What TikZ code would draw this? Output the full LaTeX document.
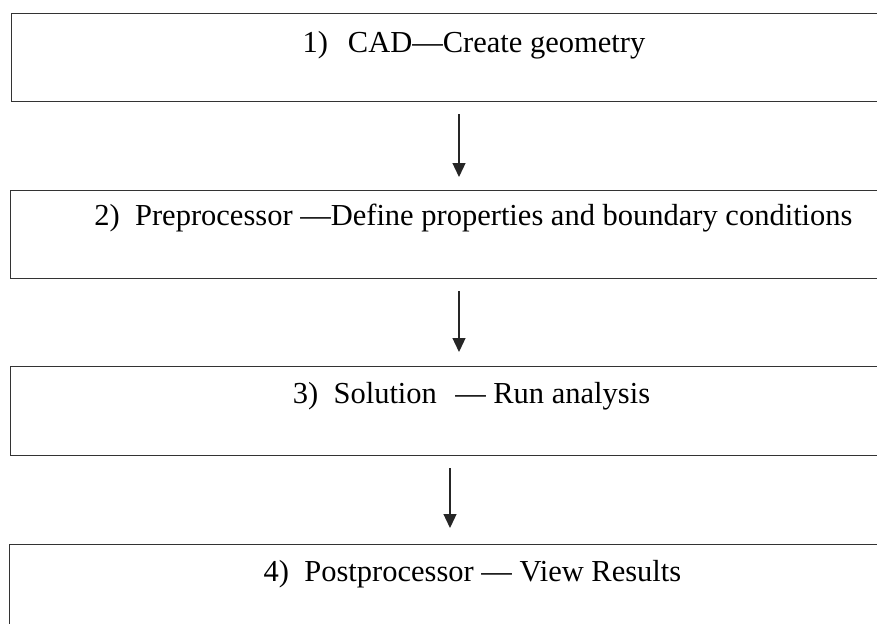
\documentclass[tikz,border=0pt]{standalone}
\usepackage{fontspec}
\setmainfont{Liberation Serif}
\usetikzlibrary{arrows.meta}
\begin{document}
\begin{tikzpicture}[x=1pt,y=-1pt,
  stepbox/.style={draw=black!80,line width=1.2pt,rectangle,inner sep=0pt},
  lbl/.style={anchor=base,inner sep=0pt,font=\fontsize{30.5}{34}\selectfont},
  arr/.style={draw=black!85,line width=1.3pt,-{Triangle[length=14pt,width=13pt]}}]
\useasboundingbox[fill=white] (0,0) rectangle (877,623);
\node[stepbox,minimum width=900pt,minimum height=88pt,anchor=north west] (b1) at (11,13) {};
\node[stepbox,minimum width=900pt,minimum height=88pt,anchor=north west] (b2) at (10,190) {};
\node[stepbox,minimum width=900pt,minimum height=89pt,anchor=north west] (b3) at (10,366) {};
\node[stepbox,minimum width=900pt,minimum height=100pt,anchor=north west] (b4) at (9,544) {};
\node[lbl] (t1) at (474,53) {1)\hspace{0.65em}CAD—Create geometry};
\node[lbl] (t2) at (473.5,225) {2)\ \ Preprocessor —Define properties and boundary conditions};
\node[lbl] (t3) at (471.5,403) {3)\ \ Solution\hspace{0.6em}— Run analysis};
\node[lbl] (t4) at (472.5,581) {4)\ \ Postprocessor — View Results};
\coordinate (c1) at (459,0);
\coordinate (c2) at (459,0);
\coordinate (c3) at (450,0);
\draw[arr,shorten <=12pt,shorten >=13pt] (b1.south -| c1) -- (b2.north -| c1);
\draw[arr,shorten <=12pt,shorten >=14pt] (b2.south -| c2) -- (b3.north -| c2);
\draw[arr,shorten <=12pt,shorten >=16pt] (b3.south -| c3) -- (b4.north -| c3);
\end{tikzpicture}
\end{document}
